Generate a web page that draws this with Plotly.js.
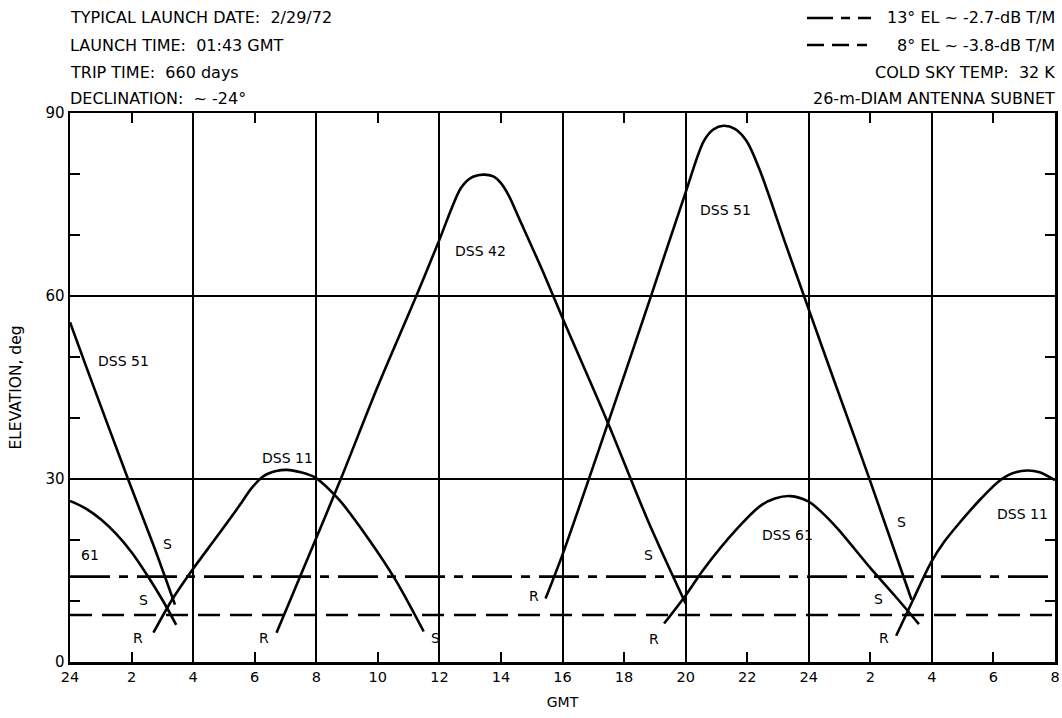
<!DOCTYPE html>
<html><head><meta charset="utf-8">
<script src="https://cdn.plot.ly/plotly-3.0.1.min.js"></script>
<style>html,body{margin:0;padding:0;background:#fff}</style>
</head><body><div id="chart" style="width:1062px;height:718px"></div>
<script>
// ---- DATA (hours from 24:00 GMT of day 1; elevation in degrees) ----
const tickHours = [0,2,4,6,8,10,12,14,16,18,20,22,24,26,28,30,32];
const tickText  = ['24','2','4','6','8','10','12','14','16','18','20','22','24','2','4','6','8'];
const gridHours = [4,8,12,16,20,24,28];
const yTicks = [0,30,60,90];
const yMinor = [10,20,40,50,70,80];

const dss51aX = [0, 0.52, 1.9, 2.7, 3.41];
const dss51aY = [55.7, 48.5, 29.8, 19.3, 9.4];

const dss61aX = [0, 0.5, 1.0, 1.5, 2.0, 2.55, 3.0, 3.45];
const dss61aY = [26.4, 25.2, 23.4, 21.0, 18.0, 13.9, 10.2, 6.1];

const dss11aX = [2.71, 3.34, 3.96, 4.78, 5.5, 5.9, 6.3, 6.7, 7.04, 7.5, 7.98, 8.74, 9.71, 10.57, 11.49];
const dss11aY = [4.8, 10.4, 15.0, 20.6, 25.6, 28.5, 30.5, 31.3, 31.5, 31.1, 30.2, 26.6, 20.1, 13.5, 5.0];

const dss42X = [6.71, 7.98, 8.79, 10.0, 11.25, 12.0, 12.4, 12.7, 13.0, 13.42, 13.75, 14.0, 14.25, 14.6, 15.32, 16.0, 17.46, 18.79, 20.0];
const dss42Y = [4.8, 20.1, 29.9, 45.2, 60.0, 69.2, 74.4, 77.7, 79.3, 79.9, 79.6, 78.5, 76.5, 72.6, 64.5, 56.4, 39.4, 23.0, 9.6];

const dss51bX = [15.45, 16.0, 17.48, 18.85, 20.0, 20.59, 20.9, 21.23, 21.6, 21.98, 22.41, 23.2, 24.0, 24.89, 25.98, 27.34];
const dss51bY = [10.4, 17.6, 39.2, 59.6, 77.0, 85.4, 87.3, 87.9, 87.4, 85.4, 80.6, 69.2, 57.8, 45.2, 29.9, 10.2];

const dss61bX = [19.3, 20.0, 20.6, 21.68, 22.43, 22.9, 23.4, 24.0, 24.45, 24.93, 26.02, 26.79, 27.58];
const dss61bY = [6.3, 10.9, 15.3, 21.9, 25.6, 26.8, 27.2, 26.3, 24.4, 21.9, 15.3, 10.9, 6.2];

const dss11bX = [26.84, 27.39, 27.97, 28.4, 28.93, 29.6, 30.17, 30.6, 31.09, 31.5, 32.0];
const dss11bY = [4.3, 10.2, 16.3, 19.7, 23.0, 26.8, 29.6, 30.9, 31.4, 31.1, 29.8];

const thresholdHigh = 14.0;   // 13 deg EL line (dash-dot)
const thresholdLow  = 7.7;    // 8 deg EL line (dashed)
const spanX = [0, 32];

const labelText = ['DSS 51','61','S','S','R','DSS 11','R','S','DSS 42','R','S','DSS 51','R','DSS 61','S','S','R','DSS 11'];
const labelX    = [1.73, 0.65, 3.16, 2.38, 2.22, 7.07, 6.3, 11.86, 13.32, 15.09, 18.79, 21.29, 18.98, 23.32, 27.0, 26.26, 26.45, 30.93];
const labelY    = [49.4, 17.6, 19.4, 10.2, 4.0, 33.5, 4.0, 4.0, 67.3, 10.8, 17.6, 74.1, 3.8, 20.9, 22.9, 10.4, 4.0, 24.2];

const headerLeft  = ['TYPICAL LAUNCH DATE:  2/29/72','LAUNCH TIME:  01:43 GMT','TRIP TIME:  660 days','DECLINATION:  ~ -24°'];
const headerRight = ['13° EL ~ -2.7-dB T/M','8° EL ~ -3.8-dB T/M','COLD SKY TEMP:  32 K','26-m-DIAM ANTENNA SUBNET'];

// ---- STYLE ----
const FONT = 'DejaVu Sans, Verdana, sans-serif';
const W = 1062, H = 718;
const M = {l:70, r:7, t:113, b:56};
const PW = W - M.l - M.r, PH = H - M.t - M.b;
const px2paperX = p => (p - M.l) / PW;
const py2paperY = p => (H - M.b - p) / PH;
const DASHDOT = '40px,9px,9px,9px';
const DASHED = '22px,10px';

function curve(x, y) {
  return {x: x, y: y, type: 'scatter', mode: 'lines', showlegend: false, hoverinfo: 'skip',
          line: {color: '#000', width: 2.6, shape: 'spline', smoothing: 0.9}};
}
const traces = [
  curve(dss51aX, dss51aY), curve(dss61aX, dss61aY), curve(dss11aX, dss11aY),
  curve(dss42X, dss42Y), curve(dss51bX, dss51bY), curve(dss61bX, dss61bY), curve(dss11bX, dss11bY),
  {x: spanX, y: [thresholdHigh, thresholdHigh], xaxis: 'x2', type: 'scatter', mode: 'lines', showlegend: false,
   hoverinfo: 'skip', line: {color: '#000', width: 2.6, dash: DASHDOT}},
  {x: spanX, y: [thresholdLow, thresholdLow], xaxis: 'x2', type: 'scatter', mode: 'lines', showlegend: false,
   hoverinfo: 'skip', line: {color: '#000', width: 2.6, dash: DASHED}}
];

const annotations = [];
labelText.forEach((t, i) => annotations.push({
  x: labelX[i], y: labelY[i], xref: 'x', yref: 'y', text: t, showarrow: false,
  font: {family: FONT, size: 14, color: '#000'}
}));
const rowY = [18, 45, 72, 99];
headerLeft.forEach((t, i) => annotations.push({
  x: 0, y: py2paperY(rowY[i]), xref: 'paper', yref: 'paper', xanchor: 'left', yanchor: 'middle', xshift: -2,
  text: t, showarrow: false, font: {family: FONT, size: 16, color: '#000'}
}));
headerRight.forEach((t, i) => annotations.push({
  x: 1, y: py2paperY(rowY[i]), xref: 'paper', yref: 'paper', xanchor: 'right', yanchor: 'middle', xshift: 2,
  text: t, showarrow: false, font: {family: FONT, size: 16, color: '#000'}
}));

const shapes = [
  {type: 'line', xref: 'paper', yref: 'paper', x0: px2paperX(807), x1: px2paperX(871),
   y0: py2paperY(18), y1: py2paperY(18), line: {color: '#000', width: 2.4, dash: '26px,8px,9px,8px'}},
  {type: 'line', xref: 'paper', yref: 'paper', x0: px2paperX(807), x1: px2paperX(867),
   y0: py2paperY(45), y1: py2paperY(45), line: {color: '#000', width: 2.4, dash: '17px,8px'}}
];

const layout = {
  width: W, height: H, margin: M, paper_bgcolor: '#fff', plot_bgcolor: '#fff',
  font: {family: FONT, size: 14, color: '#000'},
  showlegend: false,
  xaxis: {range: spanX, tickvals: tickHours, ticktext: tickText, ticks: 'inside', ticklen: 10, tickwidth: 2,
          tickcolor: '#000', showgrid: false, zeroline: false, showline: true, linewidth: 2.5, linecolor: '#000',
          mirror: 'ticks', tickfont: {family: FONT, size: 14.5}, fixedrange: true,
          title: {text: 'GMT', font: {family: FONT, size: 14}, standoff: 14}},
  xaxis2: {range: spanX, overlaying: 'x', anchor: 'y', tickvals: gridHours, showticklabels: false, ticks: '',
           showgrid: true, gridcolor: '#000', gridwidth: 2, zeroline: false, showline: false},
  yaxis: {range: [0, 90], tickvals: yTicks, ticks: '', showgrid: true, gridcolor: '#000', gridwidth: 1.6,
          zeroline: false, showline: true, linewidth: 2.5, linecolor: '#000', mirror: 'ticks',
          tickfont: {family: FONT, size: 15},
          minor: {tickvals: yMinor, ticks: 'inside', ticklen: 10, tickwidth: 2, tickcolor: '#000', showgrid: false},
          title: {text: 'ELEVATION, deg', font: {family: FONT, size: 15.5}, standoff: 20}},
  annotations: annotations,
  shapes: shapes
};

Plotly.newPlot('chart', traces, layout, {staticPlot: true, displayModeBar: false});
</script>
</body></html>
